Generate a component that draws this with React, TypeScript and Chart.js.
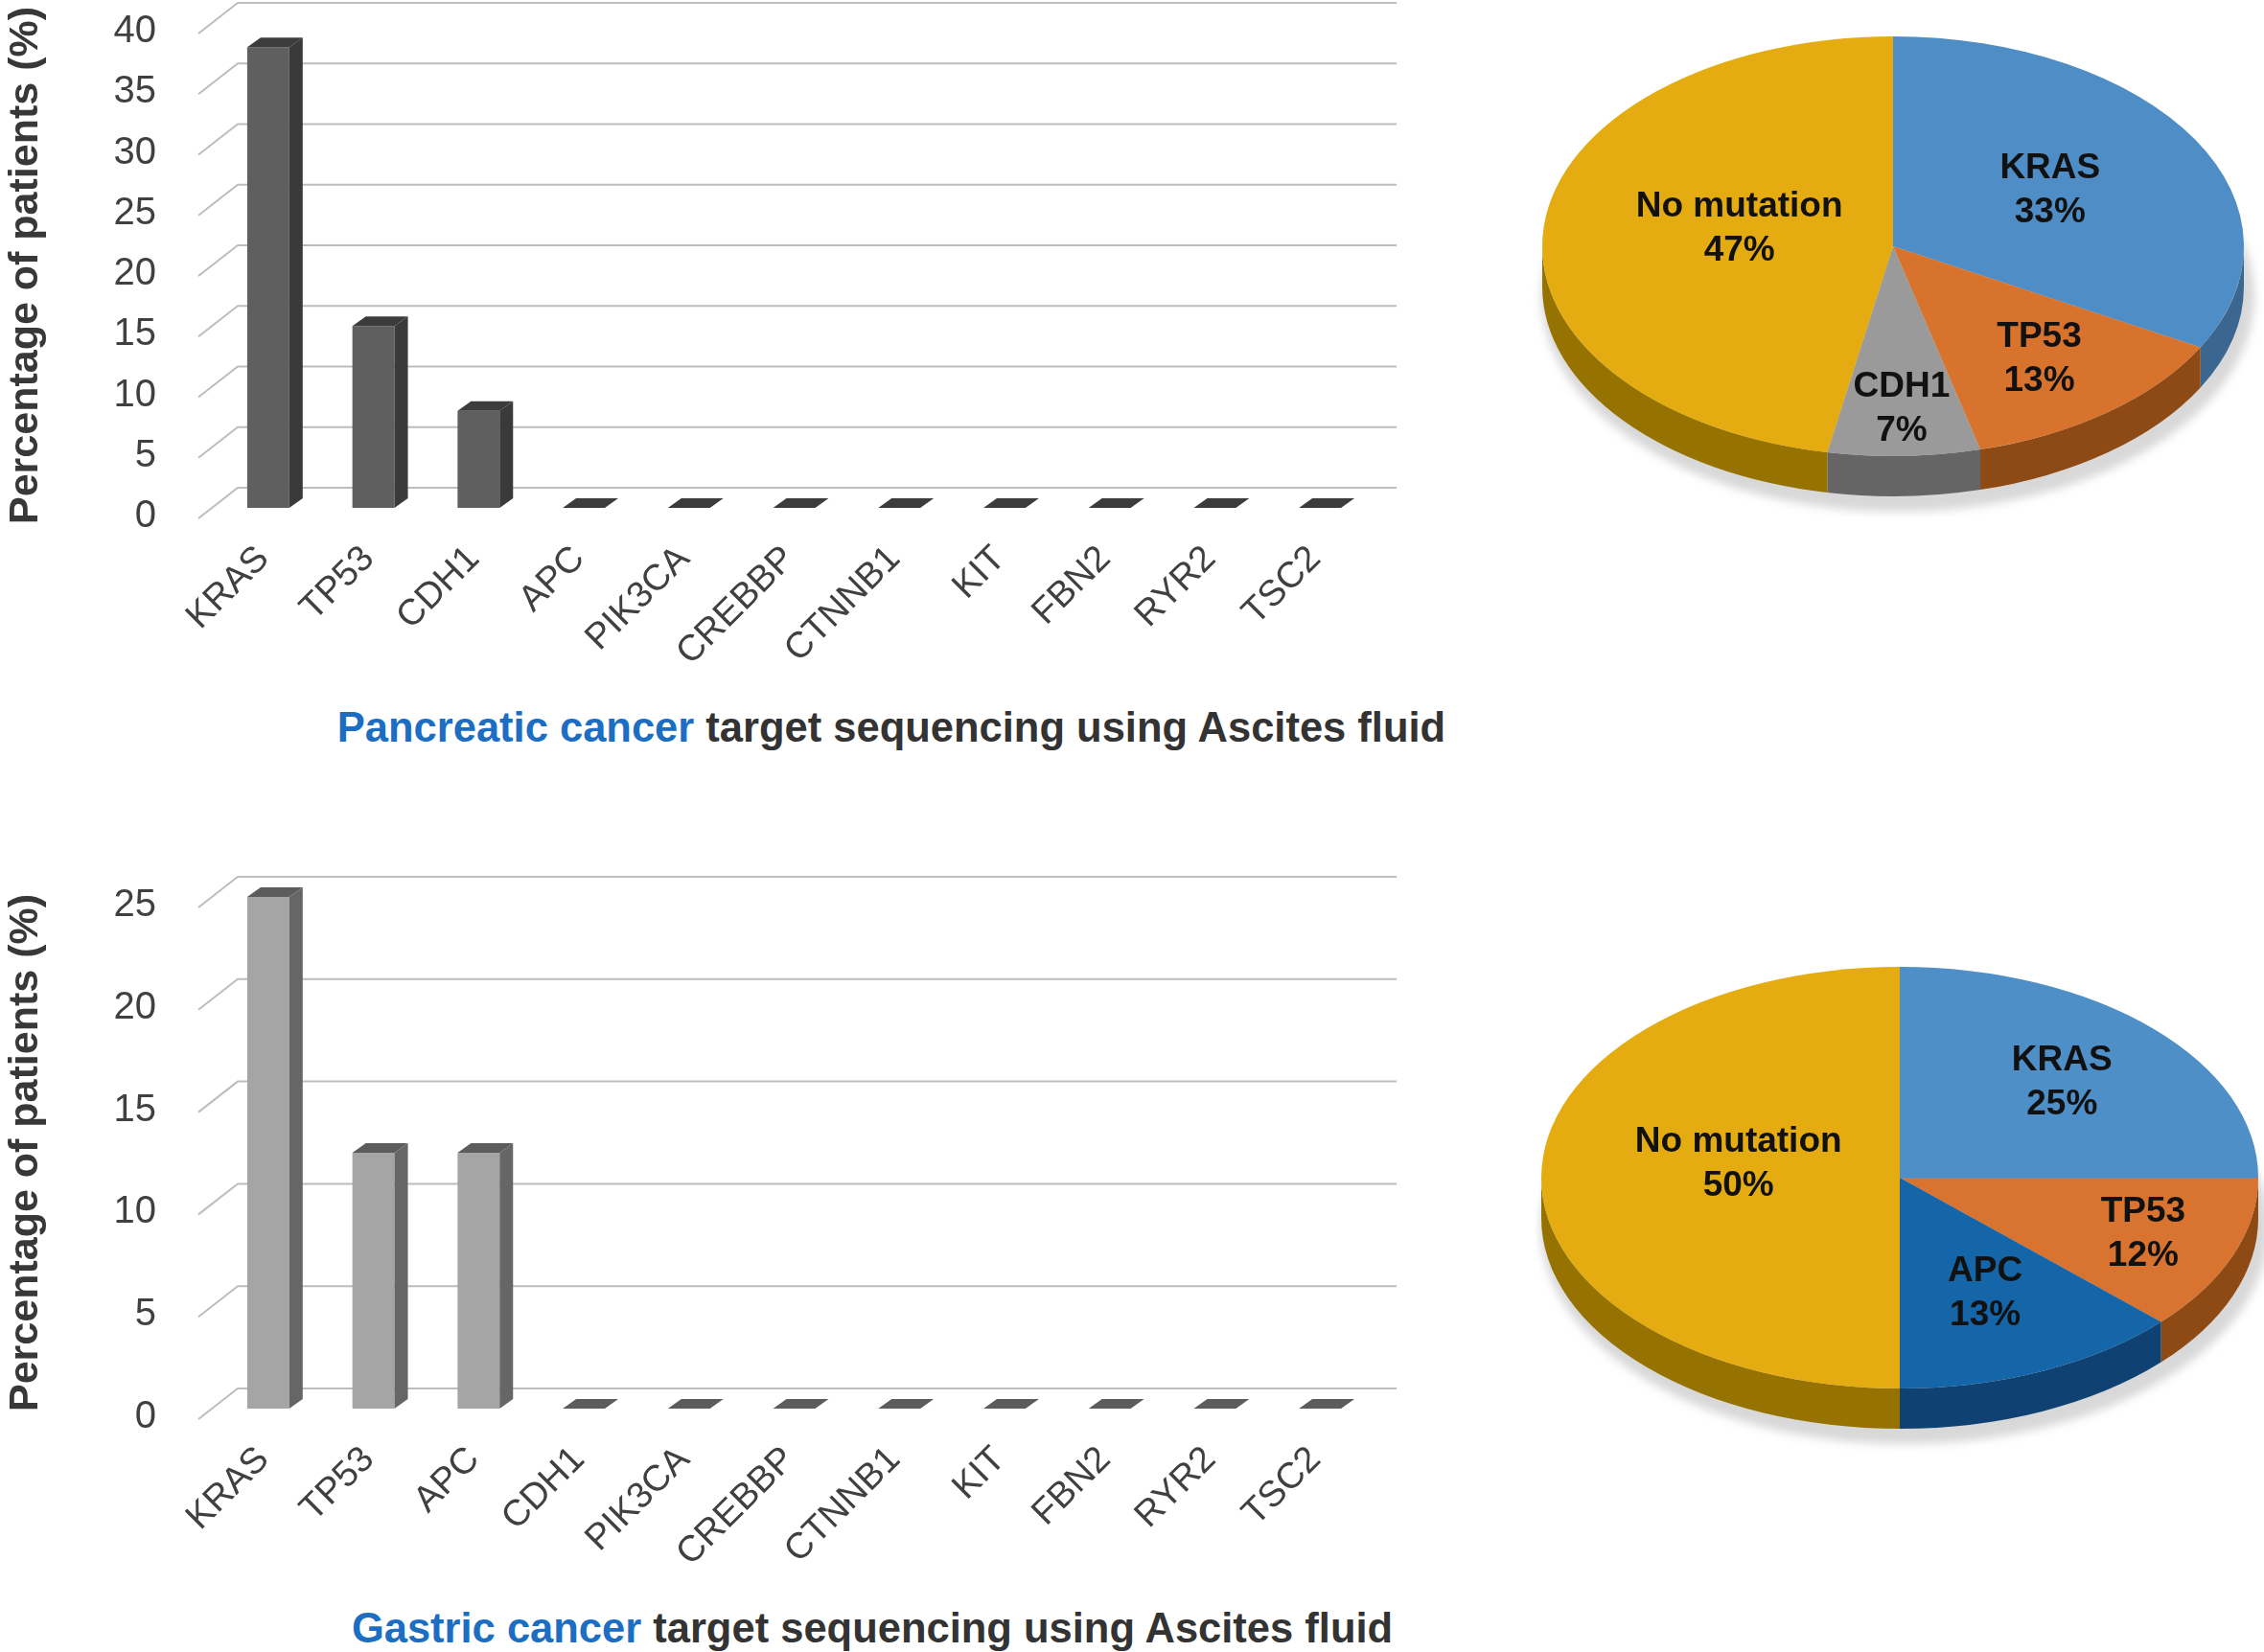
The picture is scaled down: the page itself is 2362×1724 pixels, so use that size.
import { useEffect, useRef } from "react";
import { Chart, registerables } from "chart.js";

Chart.register(...registerables);

// --- data ---
const pancreaticGenes = ["KRAS", "TP53", "CDH1", "APC", "PIK3CA", "CREBBP", "CTNNB1", "KIT", "FBN2", "RYR2", "TSC2"];
const pancreaticValues = [38, 15, 8, 0, 0, 0, 0, 0, 0, 0, 0];
const pancreaticMax = 40;

const gastricGenes = ["KRAS", "TP53", "APC", "CDH1", "PIK3CA", "CREBBP", "CTNNB1", "KIT", "FBN2", "RYR2", "TSC2"];
const gastricValues = [25, 12.5, 12.5, 0, 0, 0, 0, 0, 0, 0, 0];
const gastricMax = 25;

const tickStep = 5;

const pancreaticPieLabels = ["KRAS", "TP53", "CDH1", "No mutation"];
const pancreaticPieValues = [33, 13, 7, 47];

const gastricPieLabels = ["KRAS", "TP53", "APC", "No mutation"];
const gastricPieValues = [25, 12, 13, 50];

const NARROW = '"Liberation Sans Narrow", "Arial Narrow", "Liberation Sans", sans-serif';
const SANS = '"Liberation Sans", Arial, sans-serif';
const DX = 14; // bar depth, x
const DY = 10; // bar depth, y

// draws the floor/back-wall grid and the side + top faces of each bar
function bar3d(side: string, topFace: string) {
  return {
    id: "bar3d",
    beforeDatasetsDraw(chart: any) {
      const { ctx, chartArea, scales } = chart;
      const y = scales.y;
      ctx.save();
      ctx.strokeStyle = "#bdbdbd";
      ctx.lineWidth = 2;
      y.ticks.forEach((t: any) => {
        const py = y.getPixelForValue(t.value);
        ctx.beginPath();
        ctx.moveTo(chartArea.left - 18, py + 11);
        ctx.lineTo(chartArea.left + 23, py - 21);
        ctx.lineTo(chartArea.right + 25, py - 21);
        ctx.stroke();
      });
      ctx.restore();
    },
    afterDatasetsDraw(chart: any) {
      const { ctx } = chart;
      ctx.save();
      chart.getDatasetMeta(0).data.forEach((bar: any) => {
        const { x, y, base, width } = bar;
        const l = x - width / 2;
        const r = x + width / 2;
        ctx.fillStyle = side;
        ctx.beginPath();
        ctx.moveTo(r, y);
        ctx.lineTo(r + DX, y - DY);
        ctx.lineTo(r + DX, base - DY);
        ctx.lineTo(r, base);
        ctx.closePath();
        ctx.fill();
        ctx.fillStyle = topFace;
        ctx.beginPath();
        ctx.moveTo(l, y);
        ctx.lineTo(l + DX, y - DY);
        ctx.lineTo(r + DX, y - DY);
        ctx.lineTo(r, y);
        ctx.closePath();
        ctx.fill();
      });
      ctx.restore();
    },
  };
}

function BarPanel(props: {
  genes: string[];
  values: number[];
  max: number;
  front: string;
  side: string;
  topFace: string;
  top: number;
  padTop: number;
  height: number;
}) {
  const ref = useRef<HTMLCanvasElement | null>(null);

  useEffect(() => {
    const canvas = ref.current;
    if (!canvas) return;
    const chart = new Chart(canvas, {
      type: "bar",
      data: {
        labels: props.genes,
        datasets: [
          {
            data: props.values,
            backgroundColor: props.front,
            borderWidth: 0,
            barPercentage: 0.4,
            categoryPercentage: 1,
          },
        ],
      },
      options: {
        animation: false,
        responsive: false,
        devicePixelRatio: 1,
        layout: { padding: { top: props.padTop, right: 48, left: 0, bottom: 0 } },
        plugins: { legend: { display: false }, tooltip: { enabled: false } },
        scales: {
          x: {
            grid: { display: false, drawTicks: false },
            border: { display: false },
            ticks: {
              minRotation: 45,
              maxRotation: 45,
              autoSkip: false,
              padding: 31,
              labelOffset: -5,
              color: "#404040",
              font: { family: NARROW, size: 38 },
            },
            afterFit: (s: any) => {
              s.height = 190;
              s.paddingLeft = 0;
              s.paddingRight = 0;
            },
          },
          y: {
            min: 0,
            max: props.max,
            grid: { display: false, drawTicks: false },
            border: { display: false },
            ticks: {
              stepSize: tickStep,
              padding: 62,
              labelOffset: 9,
              color: "#404040",
              font: { family: NARROW, size: 40 },
            },
            title: {
              display: true,
              text: "Percentage of patients (%)",
              color: "#383838",
              font: { family: SANS, size: 43, weight: "bold", lineHeight: 1.2 },
              padding: { top: 1, bottom: 0 },
            },
            afterFit: (s: any) => {
              s.width = 225;
              s.paddingTop = 0;
              s.paddingBottom = 0;
            },
          },
        },
      } as any,
      plugins: [bar3d(props.side, props.topFace)],
    });
    return () => chart.destroy();
  }, []);

  return (
    <canvas
      ref={ref}
      width={1480}
      height={props.height}
      style={{ position: "absolute", left: 0, top: props.top, width: 1480, height: props.height }}
    />
  );
}

// squashes the pie into an ellipse and adds the extruded rim, shadow and labels
function pie3d(cy: number, ry: number, depth: number, sides: string[], fractions: number[], lifts: number[]) {
  return {
    id: "pie3d",
    beforeDatasetsDraw(chart: any) {
      const { ctx } = chart;
      const arcs = chart.getDatasetMeta(0).data;
      const cx = arcs[0].x;
      const cy0 = arcs[0].y;
      const rx = arcs[0].outerRadius;
      ctx.save();
      ctx.fillStyle = "#d8d8d8";
      ctx.filter = "blur(5px)";
      ctx.beginPath();
      ctx.ellipse(cx + 5, cy + depth + 10, rx + 6, ry + 6, 0, 0, Math.PI * 2);
      ctx.fill();
      ctx.restore();
      arcs.forEach((a: any, i: number) => {
        const s = Math.max(a.startAngle, 0);
        const e = Math.min(a.endAngle, Math.PI);
        if (e <= s) return;
        ctx.fillStyle = sides[i];
        ctx.beginPath();
        ctx.ellipse(cx, cy, rx, ry, 0, s, e);
        ctx.ellipse(cx, cy + depth, rx, ry, 0, e, s, true);
        ctx.closePath();
        ctx.fill();
      });
      ctx.save();
      ctx.translate(cx, cy);
      ctx.scale(1, ry / rx);
      ctx.translate(-cx, -cy0);
    },
    afterDatasetsDraw(chart: any) {
      const { ctx } = chart;
      ctx.restore();
      const arcs = chart.getDatasetMeta(0).data;
      const values = chart.data.datasets[0].data;
      ctx.save();
      ctx.fillStyle = "#111";
      ctx.font = `bold 37px ${SANS}`;
      ctx.textAlign = "center";
      ctx.textBaseline = "middle";
      arcs.forEach((a: any, i: number) => {
        const mid = (a.startAngle + a.endAngle) / 2;
        const px = a.x + fractions[i] * a.outerRadius * Math.cos(mid);
        const py = cy + fractions[i] * ry * Math.sin(mid) + lifts[i];
        ctx.fillText(chart.data.labels[i], px, py - 23);
        ctx.fillText(`${values[i]}%`, px, py + 23);
      });
      ctx.restore();
    },
  };
}

function PiePanel(props: {
  labels: string[];
  values: number[];
  colors: string[];
  sides: string[];
  fractions: number[];
  lifts: number[];
  left: number;
  top: number;
  width: number;
  height: number;
  rx: number;
  ry: number;
  cy: number;
  depth: number;
}) {
  const ref = useRef<HTMLCanvasElement | null>(null);

  useEffect(() => {
    const canvas = ref.current;
    if (!canvas) return;
    const chart = new Chart(canvas, {
      type: "pie",
      data: {
        labels: props.labels,
        datasets: [
          {
            data: props.values,
            backgroundColor: props.colors,
            borderWidth: 0,
            clip: false,
          },
        ],
      },
      options: {
        animation: false,
        responsive: false,
        devicePixelRatio: 1,
        radius: props.rx,
        layout: { padding: 0 },
        plugins: { legend: { display: false }, tooltip: { enabled: false } },
      } as any,
      plugins: [pie3d(props.cy, props.ry, props.depth, props.sides, props.fractions, props.lifts)],
    });
    return () => chart.destroy();
  }, []);

  return (
    <canvas
      ref={ref}
      width={props.width}
      height={props.height}
      style={{ position: "absolute", left: props.left, top: props.top, width: props.width, height: props.height }}
    />
  );
}

function Caption(props: { lead: string; rest: string; cx: number; cy: number }) {
  return (
    <div
      style={{
        position: "absolute",
        left: props.cx,
        top: props.cy - 23,
        transform: "translateX(-50%)",
        whiteSpace: "nowrap",
        fontFamily: SANS,
        fontWeight: "bold",
        fontSize: 43.5,
        lineHeight: "46px",
        color: "#333",
      }}
    >
      <span style={{ color: "#1c6ec3" }}>{props.lead}</span>
      {props.rest}
    </div>
  );
}

export default function App() {
  return (
    <div
      style={{
        position: "absolute",
        left: 0,
        top: 0,
        width: 2362,
        height: 1724,
        background: "#fff",
        overflow: "hidden",
      }}
    >
      <BarPanel
        genes={pancreaticGenes}
        values={pancreaticValues}
        max={pancreaticMax}
        front="#5f5f5f"
        side="#3a3a3a"
        topFace="#3c3c3c"
        top={0}
        padTop={24}
        height={720}
      />
      <Caption lead="Pancreatic cancer" rest=" target sequencing using Ascites fluid" cx={930} cy={759} />

      <BarPanel
        genes={gastricGenes}
        values={gastricValues}
        max={gastricMax}
        front="#a5a5a5"
        side="#666666"
        topFace="#5c5c5c"
        top={880}
        padTop={56}
        height={780}
      />
      <Caption lead="Gastric cancer" rest=" target sequencing using Ascites fluid" cx={910} cy={1699} />

      <PiePanel
        labels={pancreaticPieLabels}
        values={pancreaticPieValues}
        colors={["#4f8dc6", "#d8732d", "#9a9a9a", "#e4ac10"]}
        sides={["#3a6690", "#8e4a15", "#656565", "#967300"]}
        fractions={[0.52, 0.68, 0.776, 0.44]}
        lifts={[0, 0, 0, -9]}
        left={1588}
        top={0}
        width={774}
        height={560}
        rx={366}
        ry={219}
        cy={257}
        depth={42}
      />
      <PiePanel
        labels={gastricPieLabels}
        values={gastricPieValues}
        colors={["#4f8fc7", "#d97430", "#1565a9", "#e4ac10"]}
        sides={["#3a6690", "#8e4a15", "#0f4272", "#967300"]}
        fractions={[0.64, 0.73, 0.6, 0.45]}
        lifts={[0, 0, 0, -14]}
        left={1602}
        top={960}
        width={760}
        height={560}
        rx={374}
        ry={220}
        cy={269}
        depth={42}
      />
    </div>
  );
}
